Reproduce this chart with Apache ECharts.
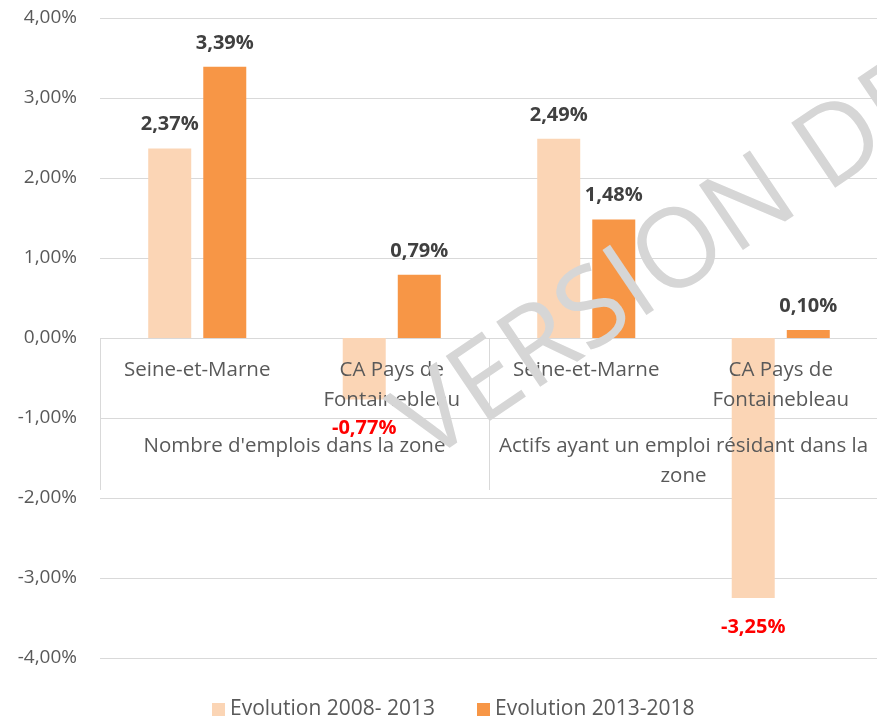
<!DOCTYPE html>
<html>
<head>
<meta charset="utf-8">
<script src="https://cdn.jsdelivr.net/npm/echarts@6/dist/echarts.min.js"></script>
<style>
  html, body { margin: 0; padding: 0; background: #fff; }
  #chart { width: 877px; height: 721px; }
</style>
</head>
<body>
<div id="chart"></div>
<script>
const zones = ['Seine-et-Marne', 'CA Pays de\nFontainebleau', 'Seine-et-Marne', 'CA Pays de\nFontainebleau']
const groups = ["Nombre d'emplois dans la zone", 'Actifs ayant un emploi résidant dans la\nzone']
const evo0813 = [2.37, -0.77, 2.49, -3.25]
const evo1318 = [3.39, 0.79, 1.48, 0.10]
const seriesNames = ['Evolution 2008- 2013', 'Evolution 2013-2018']

const font = 'Open Sans'
const fmt = v => v.toFixed(2).replace('.', ',') + '%'

// negative values get a red label below the bar
const toItems = arr => arr.map(v => v < 0
  ? { value: v, label: { position: 'bottom', distance: 19, color: '#ff0000' } }
  : { value: v })

const barLabel = {
  show: true, position: 'top', distance: 14,
  fontFamily: font, fontSize: 20, fontWeight: 'bold', color: '#404040',
  formatter: p => fmt(p.value)
}

const myChart = echarts.init(document.getElementById('chart'))
myChart.setOption({
  backgroundColor: '#fff',
  animation: false,
  grid: [
    // plot area
    { left: 100, right: -1, top: 18, bottom: 63, outerBoundsMode: 'none' },
    // category labels hang below the zero line
    { left: 100, right: -1, top: 18, bottom: 383, outerBoundsMode: 'none' }
  ],
  legend: {
    data: seriesNames, top: 699, left: 212, padding: 0,
    itemWidth: 13, itemHeight: 13, itemGap: 42, icon: 'rect',
    textStyle: { fontFamily: font, fontSize: 21, color: '#595959' }
  },
  xAxis: [
    {
      type: 'category', data: zones, gridIndex: 0,
      axisLine: { show: false }, axisTick: { show: false }, axisLabel: { show: false }
    },
    {
      type: 'category', data: zones, gridIndex: 1, position: 'bottom', z: 5,
      axisLine: { show: false }, axisTick: { show: false },
      axisLabel: { interval: 0, margin: 17, lineHeight: 30, fontFamily: font, fontSize: 20.5, color: '#595959' }
    },
    {
      type: 'category', data: groups, gridIndex: 1, position: 'bottom', z: 5,
      axisLine: { show: false },
      axisTick: { show: true, interval: 0, length: 152, lineStyle: { color: '#d9d9d9' } },
      axisLabel: { interval: 0, margin: 93, lineHeight: 30, fontFamily: font, fontSize: 20.5, color: '#595959' }
    }
  ],
  yAxis: [
    {
      type: 'value', gridIndex: 0, min: -4, max: 4, interval: 1,
      axisLine: { show: false }, axisTick: { show: false },
      splitLine: { lineStyle: { color: '#d9d9d9', width: 1 } },
      axisLabel: { margin: 23, fontFamily: font, fontSize: 19, color: '#595959', formatter: fmt }
    },
    { type: 'value', gridIndex: 1, min: 0, max: 4, show: false, splitLine: { show: false } }
  ],
  series: [
    {
      name: seriesNames[0], type: 'bar', xAxisIndex: 0, yAxisIndex: 0, barWidth: 43, barGap: '28%',
      itemStyle: { color: '#fbd5b5' }, label: barLabel, data: toItems(evo0813)
    },
    {
      name: seriesNames[1], type: 'bar', xAxisIndex: 0, yAxisIndex: 0, barWidth: 43, barGap: '28%',
      itemStyle: { color: '#f79646' }, label: barLabel, data: toItems(evo1318)
    }
  ],
  graphic: [
    {
      type: 'text', x: 378, y: 392, rotation: 34 * Math.PI / 180, z: 100, silent: true,
      style: {
        text: 'VERSION DE', fontFamily: font, fontSize: 110, fontWeight: 500,
        fill: '#d6d6d6', align: 'left', verticalAlign: 'top'
      }
    }
  ]
})
window.addEventListener('resize', () => myChart.resize())
</script>
</body>
</html>
